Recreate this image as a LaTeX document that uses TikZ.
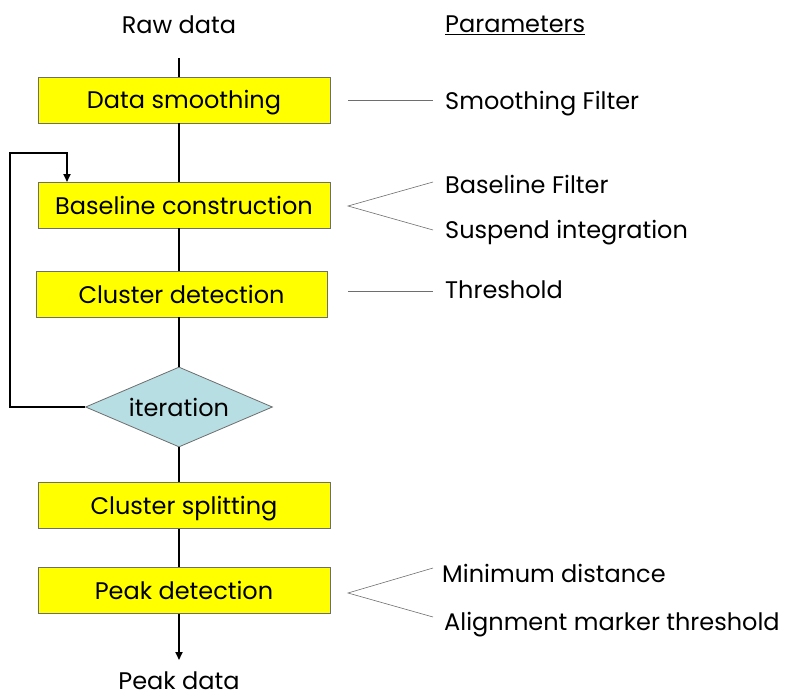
\documentclass[tikz,border=0pt]{standalone}
\usepackage{fontspec}
\setmainfont{Poppins}
\usetikzlibrary{shapes.geometric,arrows.meta}
\definecolor{boxyellow}{RGB}{255,255,0}
\definecolor{diamblue}{RGB}{183,222,226}
\definecolor{edgegray}{RGB}{110,110,110}
\tikzset{
  x=1pt,y=-1pt,
  every node/.style={font=\fontsize{24}{28}\selectfont, inner sep=0pt},
  stepbox/.style={draw=edgegray, line width=0.8pt, fill=boxyellow, minimum height=46pt, text height=18pt, text depth=0pt},
  decide/.style={diamond, draw=edgegray, line width=0.8pt, fill=diamblue, minimum width=187pt, minimum height=80pt, aspect=2.3, text height=18pt, text depth=0pt},
  flow/.style={line width=1.8pt, black},
  param/.style={line width=0.6pt, edgegray},
  ptext/.style={anchor=base west},
  ctext/.style={anchor=base},
  tip/.style={-{Triangle[length=8pt,width=7pt]}}
}
\begin{document}
\begin{tikzpicture}
\useasboundingbox (0,0) rectangle (786,698);
\node[ctext] (raw) at (179,34) {Raw data};
\coordinate (start) at (179,58);
\node[stepbox, minimum width=292pt] (b1) at (184,100) {Data smoothing};
\node[stepbox, minimum width=292pt] (b2) at (184,205) {Baseline construction};
\node[stepbox, minimum width=291pt] (b3) at (181.5,294) {Cluster detection};
\node[decide] (it) at (179,407) {iteration};
\node[stepbox, minimum width=292pt] (b4) at (184,505.5) {Cluster splitting};
\node[stepbox, minimum width=292pt] (b5) at (184,590.5) {Peak detection};
\coordinate (end) at (179,660);
\node[ctext] (peak) at (179,689) {Peak data};

\draw[flow] (start) -- (179,77);
\draw[flow] (179,123) -- (179,182);
\draw[flow] (179,228) -- (179,271);
\draw[flow] (179,317) -- (it.north);
\draw[flow] (it.south) -- (179,482);
\draw[flow] (179,529) -- (179,567);
\draw[flow,tip] (179,614) -- (end);
\coordinate (lp1) at (10,407);
\coordinate (lp2) at (10,153);
\coordinate (lp3) at (67,153);
\draw[flow,tip] (it.west) -- (lp1) -- (lp2) -- (lp3) -- (67,182);

\node[ptext] (par) at (445,33) {\underline{Parameters}};
\node[ptext] (p1) at (445,110) {Smoothing Filter};
\node[ptext] (p2a) at (445,193) {Baseline Filter};
\node[ptext] (p2b) at (445,238) {Suspend integration};
\node[ptext] (p3) at (445,298) {Threshold};
\node[ptext] (p5a) at (442,582) {Minimum distance};
\node[ptext] (p5b) at (444,630) {Alignment marker threshold};

\draw[param] (348,100) -- (433,100);
\draw[param] (433,182) -- (348,206) -- (433,230);
\draw[param] (348,291) -- (433,291);
\draw[param] (433,568) -- (348,593) -- (433,617);
\end{tikzpicture}
\end{document}
